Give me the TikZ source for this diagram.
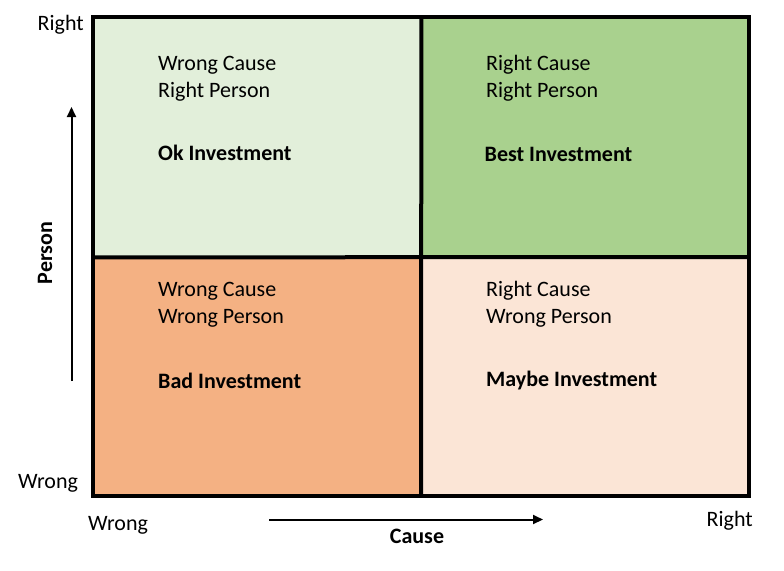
\documentclass[tikz,border=0pt]{standalone}
\usepackage{fontspec}
\setmainfont{Carlito}
\usetikzlibrary{arrows.meta}
\definecolor{qtl}{HTML}{E2EFDA}
\definecolor{qtr}{HTML}{A9D18E}
\definecolor{qbl}{HTML}{F4B183}
\definecolor{qbr}{HTML}{FBE5D6}
\tikzset{
  lbl/.style={anchor=base west, inner sep=0pt, font=\fontsize{22}{26}\selectfont},
  blbl/.style={lbl, font=\fontsize{22}{26}\selectfont\bfseries},
  quad/.style={draw=none, inner sep=0pt, anchor=north west},
  frame/.style={line width=4pt},
  axisarrow/.style={line width=2pt, -{Triangle[length=10pt,width=9pt]}}
}
\begin{document}
\begin{tikzpicture}[x=1pt,y=-1pt]
\useasboundingbox (0,0) rectangle (784,570);
% quadrants
\node[quad, fill=qtl, minimum width=328pt, minimum height=240pt] (tl) at (93,17) {};
\node[quad, fill=qtr, minimum width=328pt, minimum height=240pt] (tr) at (421,17) {};
\node[quad, fill=qbl, minimum width=328pt, minimum height=239pt] (bl) at (93,257) {};
\node[quad, fill=qbr, minimum width=328pt, minimum height=239pt] (br) at (421,257) {};
% frame and dividers
\draw[frame] (tl.north west) rectangle (br.south east);
\draw[frame] (tl.north east) -- (br.south west);
\draw[frame] (tl.south west) -- (br.north east);
% quadrant texts
\node[lbl] (tl1) at (158,70.5) {Wrong Cause};
\node[lbl] (tl2) at (158,97.5) {Right Person};
\node[blbl] (tl3) at (158,160) {Ok Investment};
\node[lbl] (tr1) at (486,70.5) {Right Cause};
\node[lbl] (tr2) at (486,97.5) {Right Person};
\node[blbl] (tr3) at (484.5,161) {Best Investment};
\node[lbl] (bl1) at (158,296) {Wrong Cause};
\node[lbl] (bl2) at (158,323) {Wrong Person};
\node[blbl] (bl3) at (158,388) {Bad Investment};
\node[lbl] (br1) at (486,296) {Right Cause};
\node[lbl] (br2) at (486,323) {Wrong Person};
\node[blbl] (br3) at (486,386) {Maybe Investment};
% axis end labels
\node[lbl] (yr) at (37.5,30) {Right};
\node[lbl] (yw) at (18,488) {Wrong};
\node[lbl] (xw) at (88,530) {Wrong};
\node[lbl] (xr) at (706.5,526) {Right};
% axis titles
\node[inner sep=0pt, anchor=base, font=\fontsize{22}{26}\selectfont\bfseries] (cause) at (417,543.5) {Cause};
\node[inner sep=0pt, anchor=base, rotate=90, font=\fontsize{22}{26}\selectfont\bfseries] (person) at (52,253) {Person};
% arrows
\coordinate (ya) at (71.5,381);
\coordinate (yb) at (71.5,107);
\coordinate (xa) at (269,519.5);
\coordinate (xb) at (543,519.5);
\draw[axisarrow] (ya) -- (yb);
\draw[axisarrow] (xa) -- (xb);
\end{tikzpicture}
\end{document}
